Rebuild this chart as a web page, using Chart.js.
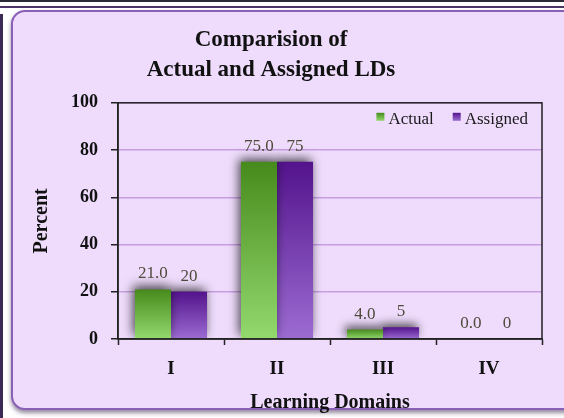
<!DOCTYPE html>
<html>
<head>
<meta charset="utf-8">
<script src="https://cdn.jsdelivr.net/npm/chart.js@4.4.0/dist/chart.umd.min.js"></script>
<style>
  html, body { margin: 0; padding: 0; background: #fff; }
  #wrap { position: relative; width: 564px; height: 418px; overflow: hidden; background: #fff; }
  .sheet-top { position: absolute; left: 0; top: 0; width: 564px; height: 8px; box-sizing: border-box;
               border-top: 2px solid #2a2a36; border-bottom: 2px solid #4a3566; }
  .sheet-left { position: absolute; left: 0; top: 14px; width: 3px; height: 404px; background: #3b2a56; }
  .frame { position: absolute; left: 11px; top: 10px; width: 580px; height: 400px; box-sizing: border-box;
           border: 2px solid #8a5fb8; border-radius: 14px; background: #efdcfc;
           box-shadow: 0 3px 4px rgba(60, 40, 80, 0.55); }
  #chart { position: absolute; left: 0; top: 0; }
</style>
</head>
<body>
<div id="wrap">
  <div class="sheet-top"></div>
  <div class="sheet-left"></div>
  <div class="frame"></div>
  <canvas id="chart" width="564" height="418"></canvas>
</div>
<script>
const categories = ['I', 'II', 'III', 'IV'];
const actualValues = [21.0, 75.0, 4.0, 0.0];
const assignedValues = [20, 75, 5, 0];
const seriesNames = ['Actual', 'Assigned'];
const yTickValues = [0, 20, 40, 60, 80, 100];

const serif = 'Liberation Serif';
const green = { top: '#478a1c', bottom: '#93d96e' };
const purple = { top: '#53138c', bottom: '#9c6cd2' };

// vertical gradient for each bar, from its top down to zero
function barFill(col) {
    return (c) => {
        const chart = c.chart;
        const y = chart.scales && chart.scales.y;
        if (c.type !== 'data' || !y) return col.bottom;
        const py = y.getPixelForValue(c.raw);
        const pb = y.getPixelForValue(0);
        if (!isFinite(py) || !isFinite(pb) || pb - py < 1) return col.bottom;
        const g = chart.ctx.createLinearGradient(0, py, 0, pb);
        g.addColorStop(0, col.top);
        g.addColorStop(1, col.bottom);
        return g;
    };
}

const excelLook = {
    id: 'excelLook',
    beforeDatasetsDraw(chart) {
        const ctx = chart.ctx;
        ctx.save();
        ctx.shadowColor = 'rgba(0, 0, 0, 0.7)';
        ctx.shadowBlur = 10;
        ctx.shadowOffsetX = -2;
        ctx.shadowOffsetY = -3;
    },
    afterDatasetsDraw(chart) {
        const ctx = chart.ctx;
        ctx.restore();

        // value labels above bars
        ctx.save();
        ctx.font = '17px "' + serif + '"';
        ctx.fillStyle = '#4f4a3a';
        ctx.textAlign = 'center';
        ctx.textBaseline = 'alphabetic';
        chart.data.datasets.forEach((ds, di) => {
            chart.getDatasetMeta(di).data.forEach((bar, i) => {
                const v = ds.data[i];
                const txt = di === 0 ? v.toFixed(1) : String(v);
                ctx.fillText(txt, bar.x, bar.y - 11);
            });
        });
        ctx.restore();
    },
    afterDraw(chart) {
        const ctx = chart.ctx;
        const a = chart.chartArea;

        // plot box
        ctx.save();
        ctx.strokeStyle = '#222';
        ctx.lineWidth = 1.5;
        ctx.strokeRect(a.left, a.top, a.right - a.left, a.bottom - a.top);
        ctx.restore();

        // legend, top right inside the plot
        ctx.save();
        ctx.font = '17px "' + serif + '"';
        ctx.textBaseline = 'alphabetic';
        const cols = [green, purple];
        const box = 8, gapBox = 4, gapItem = 19;
        const widths = seriesNames.map(n => box + gapBox + ctx.measureText(n).width);
        const total = widths.reduce((s, w) => s + w, 0) + gapItem * (seriesNames.length - 1);
        let x = a.right - 14 - total;
        const base = a.top + 21;
        seriesNames.forEach((n, i) => {
            const g = ctx.createLinearGradient(0, base - 11, 0, base - 3);
            g.addColorStop(0, cols[i].top);
            g.addColorStop(1, cols[i].bottom);
            ctx.fillStyle = g;
            ctx.fillRect(x, base - 11, box, box);
            ctx.fillStyle = '#1a1a1a';
            ctx.fillText(n, x + box + gapBox, base);
            x += widths[i] + gapItem;
        });
        ctx.restore();
    }
};

new Chart(document.getElementById('chart'), {
    type: 'bar',
    data: {
        labels: categories,
        datasets: [
            { label: seriesNames[0], data: actualValues, backgroundColor: barFill(green) },
            { label: seriesNames[1], data: assignedValues, backgroundColor: barFill(purple) }
        ]
    },
    options: {
        responsive: false,
        animation: false,
        layout: { padding: { left: 0, right: 22, top: 0, bottom: 0 } },
        datasets: { bar: { categoryPercentage: 0.68, barPercentage: 1.0 } },
        plugins: {
            legend: { display: false },
            tooltip: { enabled: false },
            title: {
                display: true,
                text: ['Comparision of', 'Actual and Assigned LDs'],
                color: '#111',
                font: { family: serif, size: 23, weight: 'bold', lineHeight: 1.3 },
                padding: { top: 25, bottom: 18 }
            }
        },
        scales: {
            x: {
                afterFit(s) { s.height = 79; },
                grid: { drawOnChartArea: false, tickColor: '#222', tickLength: 6, tickWidth: 1.5 },
                border: { display: true, color: '#222', width: 1.5 },
                ticks: { color: '#111', padding: 13, font: { family: serif, size: 19, weight: 'bold' } },
                title: {
                    display: true,
                    text: 'Learning Domains',
                    color: '#111',
                    font: { family: serif, size: 20, weight: 'bold' },
                    padding: { top: 0, bottom: 3 }
                }
            },
            y: {
                min: 0,
                max: 100,
                afterFit(s) { s.width = 118; },
                afterBuildTicks(s) { s.ticks = yTickValues.map(v => ({ value: v })); },
                grid: { color: '#c79de2', lineWidth: 1.5, tickColor: '#222', tickLength: 7, tickWidth: 1.5 },
                border: { display: true, color: '#222', width: 1.5 },
                ticks: { color: '#111', padding: 13, font: { family: serif, size: 18, weight: 'bold' } },
                title: {
                    display: true,
                    text: 'Percent',
                    color: '#111',
                    font: { family: serif, size: 20, weight: 'bold' },
                    padding: { top: 30, bottom: 0 }
                }
            }
        }
    },
    plugins: [excelLook]
});
</script>
</body>
</html>
